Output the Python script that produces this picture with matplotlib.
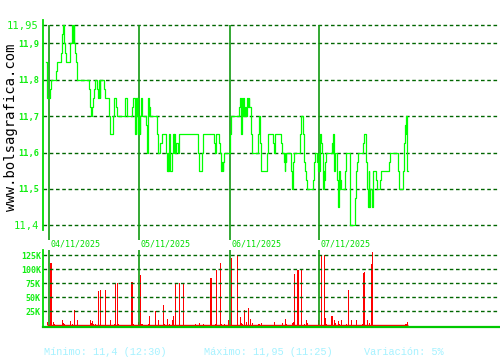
import matplotlib
matplotlib.use("Agg")
import matplotlib.pyplot as plt
from matplotlib.transforms import blended_transform_factory

# ---------------- data ----------------
# sample index (chart time position) where the price changes, and the new price
price_t = [2.7, 3.7, 7.3, 8.3, 13.3, 14.3, 18.3, 19.3, 20.3, 21.3, 22.3, 23.3, 26.7, 27.3,
           29.3, 30.0, 30.5, 31.0, 32.0, 33.3, 34.3, 46.0, 47.3, 48.3, 49.3, 50.0, 51.0,
           52.3, 54.3, 55.3, 56.0, 56.5, 57.3, 61.0, 62.3, 66.0, 67.3, 70.3, 71.3, 73.3,
           74.3, 81.7, 82.3, 84.3, 89.3, 90.0, 91.7, 92.3, 93.3, 93.8, 94.3, 94.7, 95.3,
           95.7, 96.3, 96.7, 97.0, 98.0, 98.7, 99.0, 103.0, 103.5, 104.0, 105.0, 105.5,
           106.0, 106.3, 107.3, 114.3, 115.3, 117.3, 119.3, 123.3, 124.3, 125.0, 125.3,
           126.3, 126.7, 129.3, 130.3, 130.7, 131.3, 132.0, 132.3, 133.3, 135.3, 136.3,
           155.3, 156.3, 159.3, 160.3, 171.3, 172.3, 173.3, 176.3, 177.3, 178.0, 178.3,
           179.0, 179.5, 180.3, 181.0, 187.3, 188.3, 196.3, 197.3, 198.3, 198.8, 199.3,
           200.3, 201.3, 202.3, 203.3, 204.3, 205.0, 205.5, 206.3, 208.3, 209.3, 215.3,
           216.3, 216.7, 217.3, 218.3, 224.3, 225.3, 230.3, 231.3, 232.3, 238.3, 239.3,
           241.3, 242.0, 242.3, 242.8, 243.3, 248.3, 249.3, 249.8, 250.3, 251.3, 257.3,
           258.3, 260.3, 261.3, 262.3, 263.3, 264.3, 270.3, 271.3, 272.3, 274.3, 275.3,
           276.0, 276.3, 276.7, 277.7, 278.7, 280.3, 281.0, 281.3, 281.7, 282.3, 283.3,
           289.3, 289.8, 290.3, 291.3, 292.3, 294.3, 295.3, 296.3, 296.7, 297.3, 298.3,
           302.3, 303.3, 307.3, 312.3, 313.3, 314.3, 315.3, 320.3, 321.3, 323.3, 324.3,
           325.3, 325.8, 326.3, 326.7, 327.3, 329.3, 330.3, 333.3, 334.3, 337.3, 338.3,
           346.3, 347.3, 355.3, 356.3, 360.3, 361.3, 362.3, 363.0, 363.3, 364.3, 365.3]
price_v = [11.85, 11.75, 11.775, 11.8, 11.825, 11.85, 11.875, 11.925, 11.95, 11.9, 11.875, 11.85, 11.875, 11.9,
           11.95, 11.9, 11.95, 11.9, 11.875, 11.85, 11.8, 11.775, 11.725, 11.7, 11.725, 11.75, 11.775,
           11.8, 11.775, 11.75, 11.8, 11.75, 11.8, 11.775, 11.75, 11.7, 11.65, 11.7, 11.75, 11.725,
           11.7, 11.725, 11.75, 11.7, 11.725, 11.75, 11.7, 11.65, 11.75, 11.7, 11.75, 11.65, 11.7,
           11.65, 11.7, 11.65, 11.7, 11.75, 11.725, 11.7, 11.675, 11.65, 11.6, 11.75, 11.7,
           11.75, 11.725, 11.7, 11.65, 11.6, 11.625, 11.65, 11.6, 11.55, 11.6, 11.55,
           11.65, 11.55, 11.6, 11.65, 11.6, 11.65, 11.625, 11.6, 11.625, 11.6, 11.65,
           11.6, 11.55, 11.6, 11.65, 11.625, 11.6, 11.65, 11.625, 11.6, 11.575, 11.55,
           11.575, 11.55, 11.575, 11.6, 11.65, 11.7, 11.725, 11.75, 11.65, 11.75, 11.7,
           11.75, 11.7, 11.725, 11.7, 11.75, 11.725, 11.75, 11.725, 11.65, 11.6, 11.65,
           11.7, 11.65, 11.625, 11.55, 11.6, 11.65, 11.625, 11.6, 11.65, 11.625, 11.6,
           11.575, 11.55, 11.6, 11.575, 11.6, 11.55, 11.5, 11.525, 11.575, 11.6, 11.65,
           11.7, 11.65, 11.575, 11.55, 11.525, 11.5, 11.525, 11.575, 11.6, 11.575, 11.55,
           11.6, 11.55, 11.65, 11.625, 11.6, 11.5, 11.55, 11.525, 11.55, 11.575, 11.6,
           11.625, 11.6, 11.65, 11.55, 11.6, 11.525, 11.45, 11.55, 11.5, 11.525, 11.5,
           11.55, 11.6, 11.4, 11.475, 11.55, 11.575, 11.6, 11.625, 11.65, 11.575, 11.5,
           11.45, 11.55, 11.45, 11.475, 11.5, 11.45, 11.55, 11.525, 11.5, 11.525, 11.55,
           11.575, 11.6, 11.55, 11.5, 11.55, 11.625, 11.675, 11.65, 11.7, 11.55, 11.55]

vol_t = [4, 7, 8, 10, 11, 19, 20, 21, 27, 29, 31, 34, 47, 48, 49, 50, 52, 55, 57, 62, 67,
         71, 72, 74, 75, 88, 89, 90, 95, 97, 98, 99, 105, 106, 112, 115, 120, 121, 124, 126,
         129, 130, 132, 136, 140, 152, 156, 160, 167, 168, 172, 173, 177, 178, 181, 185,
         188, 194, 197, 198, 199, 201, 203, 205, 207, 209, 215, 216, 218, 231, 239, 242,
         243, 249, 250, 251, 254, 255, 258, 261, 263, 264, 275, 278, 281, 282, 283, 288,
         289, 291, 292, 295, 296, 298, 303, 305, 308, 313, 319, 320, 321, 324, 326, 328,
         329, 362, 363, 364]
vol_v = [6000, 111000, 111000, 6000, 2000, 9000, 4000, 2000, 7000, 3000, 27000, 10000, 10000,
         4000, 7000, 2000, 2000, 61000, 63000, 63000, 9000, 2000, 74000, 75000, 2000, 77000,
         77000, 2000, 6000, 90000, 3000, 2000, 2000, 17000, 25000, 9000, 36000, 2000, 12000,
         3000, 9000, 17000, 75000, 75000, 75000, 2000, 4000, 2000, 84000, 84000, 3000, 99000,
         111000, 2000, 2000, 9000, 120000, 125000, 14000, 5000, 2000, 27000, 6000, 31000,
         12000, 4000, 3000, 2000, 5000, 6000, 5000, 12000, 2000, 4000, 6000, 92000, 99000,
         99000, 99000, 3000, 10000, 5000, 9000, 125000, 125000, 13000, 2000, 16000, 16000,
         9000, 5000, 7000, 2000, 10000, 2000, 63000, 10000, 9000, 2000, 94000, 96000, 9000,
         4000, 109000, 131000, 2000, 2000, 6000]

day_pos = [6.3, 96.3, 187.3, 276.3]
day_labels = ["04/11/2025", "05/11/2025", "06/11/2025", "07/11/2025"]

price_ticks = [11.4, 11.5, 11.6, 11.7, 11.8, 11.9, 11.95]
price_tick_labels = ["11,4", "11,5", "11,6", "11,7", "11,8", "11,9", "11,95"]
vol_ticks = [25000, 50000, 75000, 100000, 125000]
vol_tick_labels = ["25K", "50K", "75K", "100K", "125K"]

footer = ["Mínimo: 11,4 (12:30)", "Máximo: 11,95 (11:25)", "Variación: 5%"]
site = "www.bolsagrafica.com"

# ---------------- style ----------------
plt.rcParams['lines.scale_dashes'] = False
W, H = 500, 360
fig = plt.figure(figsize=(W / 100, H / 100), dpi=100)
fig.patch.set_facecolor("white")

def fx(px):
    return px / W

def fy(py):
    return 1 - py / H

X_MAX = 457
GRID_C = "#006600"
DAY_C = "#119911"
AXIS_C = "#00e000"
LBL_C = "#11ee11"
DASH = (0, (2.6, 1.9))

# price axes: pixel rows 20..240
axp = fig.add_axes([fx(43), fy(240), fx(457), (240 - 20) / H])
ppx = 0.55 / 200.0
axp.set_xlim(0, X_MAX)
axp.set_ylim(11.4 - 14.7 * ppx, 11.95 + 5.3 * ppx)
axp.set_facecolor("none")
for s in ["top", "right", "bottom"]:
    axp.spines[s].set_visible(False)
axp.spines["left"].set_color(AXIS_C)
axp.spines["left"].set_linewidth(1.3)
axp.spines["left"].set_bounds(11.4 - 4.7 * ppx, 11.95 + 5.3 * ppx)
axp.set_xticks([])
axp.set_yticks(price_ticks)
axp.set_yticklabels(price_tick_labels)
axp.tick_params(axis="y", length=0, pad=3)
for lab, v in zip(axp.get_yticklabels(), price_ticks):
    big = v in (min(price_ticks), max(price_ticks))
    lab.set_fontfamily("DejaVu Sans Mono")
    lab.set_color(LBL_C)
    lab.set_fontsize(7.6 if big else 6.2)
    lab.set_fontweight("normal" if big else "bold")

axp.hlines(price_ticks, 0, X_MAX - 3, colors=GRID_C, linewidth=1.0, linestyles=[DASH])
axp.vlines(day_pos, axp.get_ylim()[0], max(price_ticks), colors=DAY_C, linewidth=1.2)
axp.step(price_t, price_v, where="post", color="#00ff00", linewidth=0.9)

tr = blended_transform_factory(axp.transData, fig.transFigure)
for d, lab in zip(day_pos, day_labels):
    axp.text(d + 1.2, fy(244), lab, transform=tr, ha="left", va="center",
             fontsize=6.0, color="#00dd00", fontfamily="DejaVu Sans Mono",
             clip_on=False)

# volume axes: pixel rows 250..327
axv = fig.add_axes([fx(43), fy(327), fx(457), (327 - 250) / H])
vpx = 125000 / 70.0
axv.set_xlim(0, X_MAX)
axv.set_ylim(-1.7 * vpx, 125000 + 5.3 * vpx)
axv.set_facecolor("none")
for s in ["top", "right"]:
    axv.spines[s].set_visible(False)
axv.spines["left"].set_color(AXIS_C)
axv.spines["left"].set_linewidth(1.3)
axv.spines["bottom"].set_color("#00c800")
axv.spines["bottom"].set_linewidth(1.6)
axv.set_xticks([])
axv.set_yticks(vol_ticks)
axv.set_yticklabels(vol_tick_labels)
axv.tick_params(axis="y", length=0, pad=1.5)
for lab in axv.get_yticklabels():
    lab.set_fontfamily("DejaVu Sans Mono")
    lab.set_fontweight("bold")
    lab.set_fontsize(6.0)
    lab.set_color(LBL_C)

axv.hlines(vol_ticks, 0, X_MAX - 3, colors=GRID_C, linewidth=1.0, linestyles=[DASH])
axv.vlines(day_pos, axv.get_ylim()[0], axv.get_ylim()[1], colors=DAY_C, linewidth=1.2)
axv.plot([min(vol_t), max(price_t)], [600, 600], color="red", linewidth=1.0,
         solid_capstyle="butt")
axv.bar(vol_t, vol_v, width=1.0, color="red", linewidth=0, align="center",
        antialiased=False)

# side watermark text
fig.text(fx(11), fy(127), site, rotation=90, ha="center", va="center",
         fontsize=10, color="black", fontfamily="DejaVu Sans Mono")

# footer
for xpx, s in zip([44, 204, 364], footer):
    fig.text(fx(xpx), fy(352), s, ha="left", va="center", fontsize=7.4,
             color="#a6f2ff", fontfamily="Liberation Mono")

fig.savefig("out.png", dpi=100, facecolor="white")
